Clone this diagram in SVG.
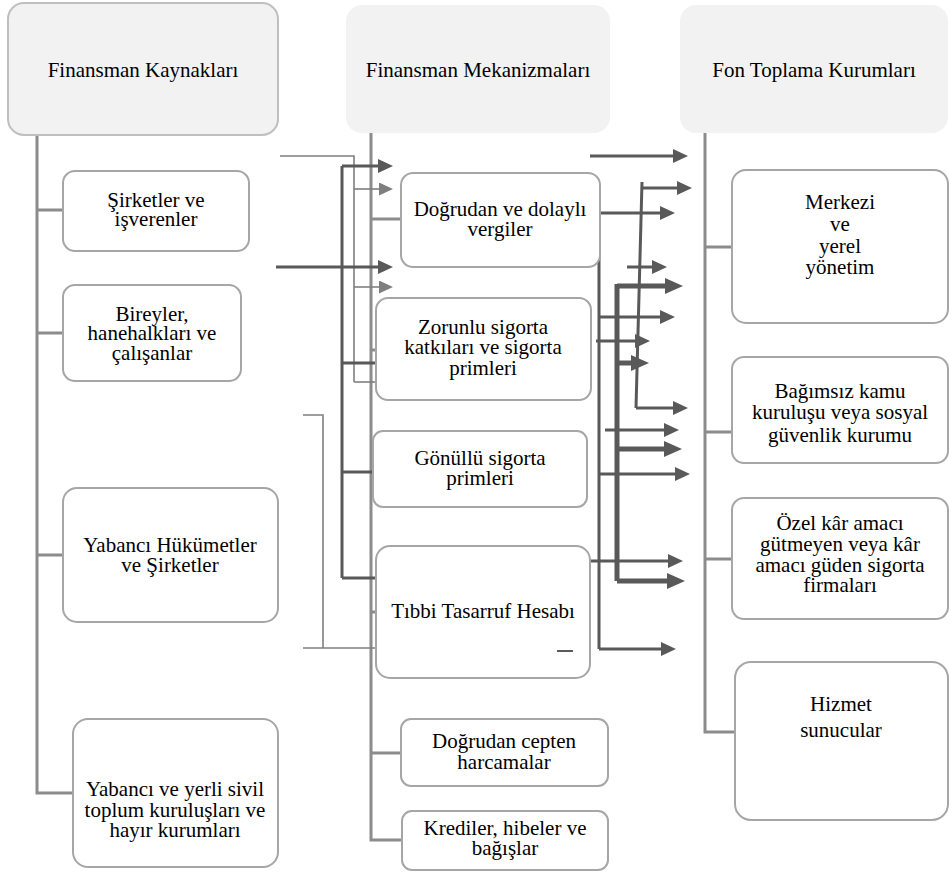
<svg xmlns="http://www.w3.org/2000/svg" width="950" height="872" viewBox="0 0 950 872">
<style>
text{font-family:"Liberation Serif","Times New Roman",serif;font-size:21px;fill:#000;text-anchor:middle}
.hdr{fill:#f2f2f2}
.box{fill:#fff;stroke:#a6a6a6;stroke-width:2}
.trunk{fill:none;stroke:#8c8c8c;stroke-width:3}
.dk{fill:none;stroke:#595959;stroke-width:3}
.th{fill:none;stroke:#595959;stroke-width:5}
.lt{fill:none;stroke:#7f7f7f;stroke-width:1.6}
.dka{marker-end:url(#ad)}
.tha{marker-end:url(#at)}
.lta{marker-end:url(#al)}
</style>
<defs>
<marker id="ad" markerUnits="userSpaceOnUse" markerWidth="15" markerHeight="14" refX="5" refY="7" orient="auto"><path d="M0,0 L15,7 L0,14 z" fill="#595959"/></marker>
<marker id="at" markerUnits="userSpaceOnUse" markerWidth="18" markerHeight="16" refX="6" refY="8" orient="auto"><path d="M0,0 L18,8 L0,16 z" fill="#595959"/></marker>
<marker id="al" markerUnits="userSpaceOnUse" markerWidth="14" markerHeight="13" refX="5" refY="6.5" orient="auto"><path d="M0,0 L14,6.5 L0,13 z" fill="#7f7f7f"/></marker>
</defs>
<rect width="950" height="872" fill="#fff"/>

<g id="connectors">
<path class="trunk" d="M37,135 V793 H73 M37,210 H63 M37,333 H63 M37,555 H63"/>
<path class="trunk" d="M371,133 V840 H402 M371,219 H401 M371,350 H377 M371,469 H374 M371,612 H377 M371,753 H401"/>
<path class="trunk" d="M705,133 V732 H735 M705,247 H732 M705,432 H732 M705,559 H732"/>

<path class="lt" d="M280,156 H354 V382"/>
<line class="lt lta" x1="354" y1="189" x2="384" y2="189"/>
<line class="lt lta" x1="354" y1="287" x2="384" y2="287"/>
<line class="lt lta" x1="354" y1="382" x2="384" y2="382"/>
<path class="lt" d="M303,415 H323 V648"/>
<line class="lt lta" x1="303" y1="648" x2="384" y2="648"/>

<path class="dk" d="M342,166 V578"/>
<line class="dk dka" x1="342" y1="166" x2="383" y2="166"/>
<line class="dk dka" x1="276" y1="267" x2="383" y2="267"/>
<line class="dk dka" x1="342" y1="363" x2="383" y2="363"/>
<line class="dk dka" x1="342" y1="472" x2="383" y2="472"/>
<line class="dk dka" x1="342" y1="578" x2="383" y2="578"/>

<line class="dk dka" x1="590" y1="156" x2="678" y2="156"/>
<path class="dk" d="M642,182 L636,408"/>
<line class="dk dka" x1="642" y1="188" x2="682" y2="188"/>
<line class="dk dka" x1="636" y1="408" x2="678" y2="408"/>
<path class="dk" d="M599,213 V649"/>
<line class="dk dka" x1="599" y1="213" x2="665" y2="213"/>
<line class="dk dka" x1="599" y1="317" x2="665" y2="317"/>
<line class="dk dka" x1="599" y1="474" x2="680" y2="474"/>
<line class="dk dka" x1="599" y1="649" x2="666" y2="649"/>
<line class="dk dka" x1="627" y1="267" x2="657" y2="267"/>
<path class="th" d="M617,284 V581"/>
<line class="th tha" x1="617" y1="286" x2="671" y2="286"/>
<line class="th tha" x1="617" y1="363" x2="637" y2="363"/>
<line class="th tha" x1="617" y1="449" x2="670" y2="449"/>
<line class="th tha" x1="617" y1="581" x2="673" y2="581"/>
<line class="dk dka" x1="596" y1="341" x2="640" y2="341"/>
<line class="dk dka" x1="605" y1="430" x2="669" y2="430"/>
<line class="dk dka" x1="586" y1="561" x2="673" y2="561"/>
</g>

<g id="h1"><rect x="8" y="3" width="270" height="132" rx="16" class="hdr" stroke="#bfbfbf" stroke-width="2"/><text x="143" y="77">Finansman Kaynakları</text></g>
<g id="h2"><rect x="346" y="5" width="264" height="128" rx="16" class="hdr"/><text x="478" y="77">Finansman Mekanizmaları</text></g>
<g id="h3"><rect x="680" y="5" width="268" height="128" rx="16" class="hdr"/><text x="814" y="77">Fon Toplama Kurumları</text></g>

<g id="s1"><rect x="63" y="171" width="186" height="80" rx="12" class="box"/><text x="156" y="207">Şirketler ve</text><text x="156" y="226">işverenler</text></g>
<g id="s2"><rect x="63" y="285" width="178" height="96" rx="12" class="box"/><text x="152" y="321">Bireyler,</text><text x="152" y="340">hanehalkları ve</text><text x="152" y="360">çalışanlar</text></g>
<g id="s3"><rect x="63" y="488" width="215" height="134" rx="14" class="box"/><text x="170" y="552">Yabancı Hükümetler</text><text x="170" y="572">ve Şirketler</text></g>
<g id="s4"><rect x="73" y="719" width="205" height="148" rx="15" class="box"/><text x="175" y="796">Yabancı ve yerli sivil</text><text x="175" y="817">toplum kuruluşları ve</text><text x="175" y="837">hayır kurumları</text></g>

<g id="m1"><rect x="401" y="173" width="199" height="94" rx="12" class="box"/><text x="500" y="216">Doğrudan ve dolaylı</text><text x="500" y="236">vergiler</text></g>
<g id="m2"><rect x="376" y="298" width="215" height="102" rx="12" class="box"/><text x="483" y="334">Zorunlu sigorta</text><text x="483" y="354">katkıları ve sigorta</text><text x="483" y="375">primleri</text></g>
<g id="m3"><rect x="373" y="431" width="214" height="76" rx="10" class="box"/><text x="480" y="465">Gönüllü sigorta</text><text x="480" y="485">primleri</text></g>
<g id="m4"><rect x="376" y="546" width="214" height="132" rx="14" class="box"/><text x="483" y="618">Tıbbi Tasarruf Hesabı</text><line x1="557" y1="651" x2="573" y2="651" stroke="#595959" stroke-width="2"/></g>
<g id="m5"><rect x="401" y="719" width="207" height="67" rx="10" class="box"/><text x="504" y="748">Doğrudan cepten</text><text x="504" y="769">harcamalar</text></g>
<g id="m6"><rect x="402" y="811" width="206" height="59" rx="10" class="box"/><text x="505" y="835">Krediler, hibeler ve</text><text x="505" y="855">bağışlar</text></g>

<g id="f1"><rect x="732" y="170" width="216" height="153" rx="14" class="box"/><text x="840" y="209">Merkezi</text><text x="840" y="231">ve</text><text x="840" y="253">yerel</text><text x="840" y="274">yönetim</text></g>
<g id="f2"><rect x="732" y="357" width="216" height="106" rx="12" class="box"/><text x="840" y="398">Bağımsız kamu</text><text x="840" y="419">kuruluşu veya sosyal</text><text x="840" y="442">güvenlik kurumu</text></g>
<g id="f3"><rect x="732" y="498" width="216" height="121" rx="12" class="box"/><text x="840" y="530">Özel kâr amacı</text><text x="840" y="551">gütmeyen veya kâr</text><text x="840" y="572">amacı güden sigorta</text><text x="840" y="592">firmaları</text></g>
<g id="f4"><rect x="735" y="662" width="213" height="158" rx="16" class="box"/><text x="841" y="711">Hizmet</text><text x="841" y="737">sunucular</text></g>
</svg>
